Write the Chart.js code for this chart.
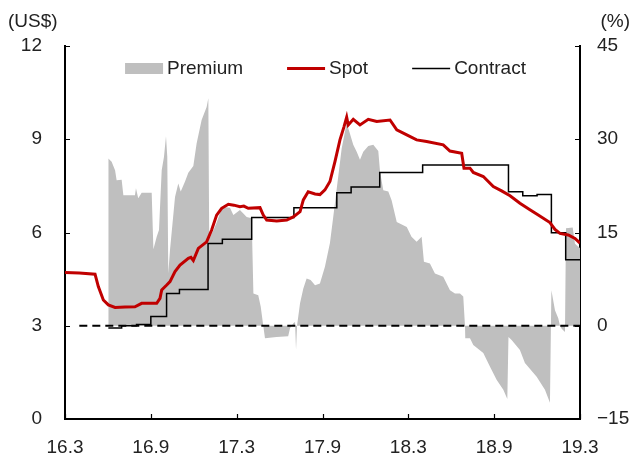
<!DOCTYPE html>
<html>
<head>
<meta charset="utf-8">
<script src="https://cdn.jsdelivr.net/npm/chart.js@4.4.1/dist/chart.umd.min.js"></script>
<style>
  html, body { margin: 0; padding: 0; background: #fff; }
  #wrap { width: 631px; height: 454px; }
</style>
</head>
<body>
<div id="wrap"><canvas id="chart" width="631" height="454"></canvas></div>
<script>
// x = months since 2016.3
const xTickLabels = ['16.3', '16.9', '17.3', '17.9', '18.3', '18.9', '19.3'];

// Spot price (US$)
const spotMonths = [0, 1.0, 2.1, 2.33, 2.68, 3.03, 3.5, 4.2, 4.89, 5.36, 6.41, 6.64, 6.76, 7.11, 7.34, 7.69,
  8.04, 8.62, 8.8, 8.97, 9.32, 9.9, 10.25, 10.6, 10.95, 11.42, 11.8, 12.23, 12.5, 12.81, 13.63, 13.86,
  14.1, 14.8, 15.5, 15.96, 16.43, 16.66, 17.0, 17.48, 17.82, 18.17, 18.52, 18.87, 19.22, 19.5, 19.69,
  19.8, 20.15, 20.62, 21.2, 21.79, 22.72, 23.19, 23.89, 24.58, 25.28, 26.44, 26.91, 27.73, 27.89,
  28.31, 28.54, 29.24, 29.94, 30.52, 31.11, 31.8, 32.5, 33.08, 33.9, 34.25, 34.6, 35.18, 35.65, 36];
const spotPrice = [4.71, 4.70, 4.66, 4.26, 3.83, 3.67, 3.59, 3.60, 3.61, 3.72, 3.72, 3.88, 4.15, 4.31, 4.42, 4.74,
  4.95, 5.17, 5.20, 5.10, 5.49, 5.70, 6.08, 6.56, 6.78, 6.91, 6.88, 6.83, 6.85, 6.78, 6.80, 6.56,
  6.40, 6.37, 6.40, 6.50, 6.67, 7.05, 7.31, 7.24, 7.22, 7.37, 7.64, 8.28, 8.98, 9.40, 9.71,
  9.46, 9.64, 9.46, 9.64, 9.57, 9.62, 9.30, 9.14, 8.98, 8.93, 8.82, 8.62, 8.55, 8.07,
  8.07, 7.93, 7.80, 7.48, 7.34, 7.18, 6.94, 6.73, 6.56, 6.32, 6.10, 5.97, 5.92, 5.81, 5.66];

// Contract price (US$), held until next change
const contractMonths = [3.03, 3.96, 5.0, 6.0, 7.1, 8.0, 10.0, 11.0, 13.05, 16.0, 19.0, 20.0, 22.0, 25.0,
  31.0, 32.0, 33.0, 34.0, 35.0, 36.0];
const contractPrice = [2.93, 3.0, 3.04, 3.3, 4.04, 4.17, 5.65, 5.78, 6.48, 6.8, 7.28, 7.46, 7.93, 8.17,
  7.31, 7.18, 7.22, 5.99, 5.12, 5.12];

// Premium (%), right axis
const premiumMonths = [3.02, 3.03, 3.26, 3.5, 3.61, 3.96, 4.08, 4.89, 4.96, 5.12, 5.36, 6.06, 6.18, 6.41,
  6.57, 6.76, 6.92, 7.06, 7.15, 7.22, 7.34, 7.69, 7.92, 8.09, 8.39, 8.62, 8.97, 9.2, 9.55, 9.9, 10.02,
  10.08, 10.4, 10.6, 10.83, 11.07, 11.53, 11.77, 12.23, 12.7, 13.05, 13.17, 13.51, 13.68, 13.86, 13.98,
  14.79, 15.6, 15.73, 15.96, 16.08, 16.15, 16.22, 16.43, 16.66, 16.89, 17.17, 17.48, 17.82, 18.17,
  18.52, 18.75, 19.1, 19.34, 19.69, 19.92, 20.15, 20.39, 20.62, 20.85, 21.2, 21.55, 21.9, 22.02,
  22.25, 22.6, 22.83, 23.19, 23.89, 24.22, 24.58, 24.93, 25.09, 25.51, 25.86, 26.44, 26.91, 27.26,
  27.61, 27.84, 27.96, 27.98, 28.31, 28.54, 29.24, 29.71, 30.17, 30.64, 30.92, 31.0, 31.22, 31.8,
  32.15, 32.97, 33.55, 33.9, 34.0, 34.25, 34.48, 34.6, 34.72, 34.95, 35.02, 35.49, 35.65, 35.88, 36];
const premiumPct = [0, 26.9, 26.4, 25.0, 23.4, 23.5, 21.0, 21.0, 22.1, 20.5, 21.4, 21.4, 12.3, 14.3,
  15.4, 25.0, 27.2, 30.5, 27.2, 8.4, 12.2, 20.7, 22.9, 21.6, 23.2, 24.6, 25.7, 29.3, 33.1, 35.2, 36.6,
  14.0, 15.5, 16.6, 18.1, 19.1, 19.0, 17.8, 18.6, 17.5, 17.3, 5.2, 4.9, 3.1, 0, -2.0,
  -1.8, -1.7, -0.4, 0.4, 0.6, -3.9, 0, 3.6, 6.0, 7.6, 7.35, 6.5, 6.8, 9.5,
  13.3, 17.5, 24.0, 28.5, 32.6, 30.9, 29.1, 28.0, 26.7, 28.0, 28.9, 29.1, 28.1, 24.8,
  21.8, 21.6, 20.2, 16.7, 15.9, 14.3, 13.5, 14.3, 10.3, 10.0, 8.4, 7.9, 5.7, 5.2,
  5.2, 4.7, 0, -2.0, -2.0, -3.1, -4.4, -6.6, -8.7, -10.3, -11.8, -1.8, -2.3, -3.9,
  -6.0, -8.2, -10.3, -12.4, 5.7, 2.5, 1.2, 0, -0.5, -1.0, 15.7, 15.8, 13.2, 12.7, 12.5];

const zeroLine = [1, 36];

const pts = (xs, ys) => xs.map((x, i) => ({ x: x, y: ys[i] }));

const FONT = 'Liberation Sans, Arial, sans-serif';
const TEXT = '#222222';

// inward ticks, unit labels and a one-row legend inside the plot
const axisExtras = {
  id: 'axisExtras',
  afterDraw(chart) {
    const ctx = chart.ctx;
    const a = chart.chartArea;
    const len = 5;
    ctx.save();
    ctx.strokeStyle = '#000';
    ctx.lineWidth = 1.2;
    ctx.beginPath();
    chart.scales.y.ticks.forEach(t => {
      const py = Math.round(chart.scales.y.getPixelForValue(t.value)) + 0.5;
      ctx.moveTo(a.left, py); ctx.lineTo(a.left + len, py);
    });
    chart.scales.y1.ticks.forEach(t => {
      const py = Math.round(chart.scales.y1.getPixelForValue(t.value)) + 0.5;
      ctx.moveTo(a.right, py); ctx.lineTo(a.right - len, py);
    });
    chart.scales.x.ticks.forEach(t => {
      const px = Math.round(chart.scales.x.getPixelForValue(t.value)) + 0.5;
      ctx.moveTo(px, a.bottom); ctx.lineTo(px, a.bottom - len);
    });
    ctx.stroke();

    ctx.fillStyle = TEXT;
    ctx.font = '19px ' + FONT;
    ctx.textBaseline = 'middle';
    ctx.textAlign = 'left';
    ctx.fillText('(US$)', 8, 22);
    ctx.textAlign = 'right';
    ctx.fillText('(%)', 630, 22);

    // legend
    const items = chart.data.datasets.filter(d => d.label);
    const sym = 38, gapIn = 4, gapOut = 44;
    const widths = items.map(d => sym + gapIn + ctx.measureText(d.label).width);
    const total = widths.reduce((s, w) => s + w, 0) + gapOut * (items.length - 1);
    let x = (a.left + a.right) / 2 + 3 - total / 2;
    const cy = a.top + 22;
    ctx.textAlign = 'left';
    items.forEach((d, i) => {
      if (d.fill) {
        ctx.fillStyle = d.backgroundColor;
        ctx.fillRect(x, cy - 5, sym, 11);
      } else {
        ctx.strokeStyle = d.borderColor;
        ctx.lineWidth = d.borderWidth;
        ctx.beginPath();
        ctx.moveTo(x, cy + 0.5); ctx.lineTo(x + sym, cy + 0.5);
        ctx.stroke();
      }
      ctx.fillStyle = TEXT;
      ctx.fillText(d.label, x + sym + gapIn, cy + 1);
      x += widths[i] + gapOut;
    });
    ctx.restore();
  }
};

const ctx = document.getElementById('chart').getContext('2d');
new Chart(ctx, {
  type: 'line',
  data: {
    datasets: [
      {
        label: 'Premium',
        data: pts(premiumMonths, premiumPct),
        yAxisID: 'y1',
        borderWidth: 0,
        borderColor: '#bfbfbf',
        backgroundColor: '#bfbfbf',
        fill: 'origin',
        pointRadius: 0,
        tension: 0,
        order: 4
      },
      {
        label: 'Spot',
        data: pts(spotMonths, spotPrice),
        yAxisID: 'y',
        borderColor: '#c00000',
        backgroundColor: '#c00000',
        borderWidth: 3,
        pointRadius: 0,
        tension: 0,
        order: 1
      },
      {
        label: 'Contract',
        data: pts(contractMonths, contractPrice),
        yAxisID: 'y',
        borderColor: '#000000',
        backgroundColor: '#000000',
        borderWidth: 1.5,
        stepped: 'before',
        pointRadius: 0,
        order: 2
      },
      {
        label: '',
        data: pts(zeroLine, [0, 0]),
        yAxisID: 'y1',
        borderColor: '#000000',
        borderWidth: 2,
        borderDash: [8, 5],
        pointRadius: 0,
        order: 3
      }
    ]
  },
  options: {
    responsive: false,
    animation: false,
    layout: { padding: { top: 46, left: 0, right: 0, bottom: 0 } },
    plugins: {
      tooltip: { enabled: false },
      legend: { display: false }
    },
    scales: {
      x: {
        type: 'linear',
        min: 0,
        max: 36,
        grid: { display: false, drawTicks: false },
        border: { display: true, color: '#000', width: 2 },
        ticks: {
          stepSize: 6,
          color: TEXT,
          font: { family: FONT, size: 19 },
          padding: 17,
          maxRotation: 0,
          callback: v => xTickLabels[v / 6]
        },
        afterFit: s => { s.height = 35; }
      },
      y: {
        position: 'left',
        min: 0,
        max: 12,
        grid: { display: false, drawTicks: false },
        border: { display: true, color: '#000', width: 2 },
        ticks: {
          stepSize: 3,
          color: TEXT,
          font: { family: FONT, size: 19 },
          padding: 23
        },
        afterFit: s => { s.width = 65; }
      },
      y1: {
        position: 'right',
        min: -15,
        max: 45,
        grid: { display: false, drawTicks: false },
        border: { display: true, color: '#000', width: 2 },
        ticks: {
          stepSize: 15,
          color: TEXT,
          font: { family: FONT, size: 19 },
          padding: 17,
          callback: v => (v < 0 ? '\u2212' + Math.abs(v) : String(v))
        },
        afterFit: s => { s.width = 51; }
      }
    }
  },
  plugins: [axisExtras]
});
</script>
</body>
</html>
